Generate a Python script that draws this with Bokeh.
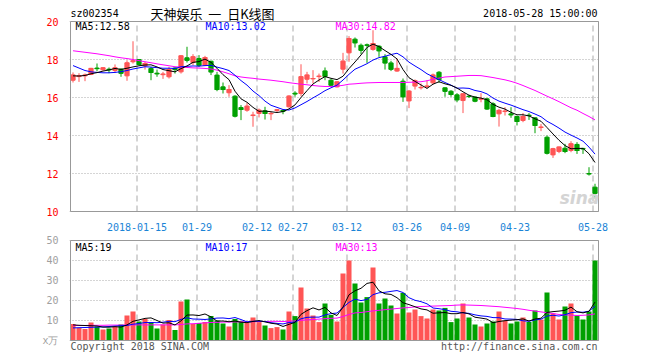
from bokeh.plotting import figure
from bokeh.layouts import column
from bokeh.models import Range1d, FixedTicker, Label, ColumnDataSource
from bokeh.embed import file_html
from bokeh.resources import INLINE

# ---------------- data ----------------
tick_idx = [11, 21, 31, 37, 46, 56, 64, 74, 87]
tick_labels = ["2018-01-15", "01-29", "02-12", "02-27", "03-12", "03-26", "04-09", "04-23", "05-28"]
price_ticks = [10, 12, 14, 16, 18, 20]
vol_ticks = [0, 10, 20, 30, 40, 50]

open_ = [16.91, 17.10, 17.14, 17.21, 17.55, 17.46, 17.49, 17.42, 17.49, 17.14,
         17.88, 18.00, 17.67, 17.53, 17.28, 17.20, 17.09, 17.55, 17.35, 18.09,
         17.84, 18.05, 17.70, 17.91, 17.18, 16.56, 16.25, 16.07, 15.47, 15.33,
         15.05, 15.16, 15.30, 15.14, 15.32, 15.32, 15.51, 16.23, 16.21, 16.96,
         16.98, 17.10, 17.40, 16.91, 16.56, 17.49, 18.35, 19.07, 18.75, 18.77,
         18.53, 18.70, 18.14, 17.82, 17.39, 16.86, 15.82, 16.60, 16.51, 16.58,
         16.77, 17.33, 16.51, 16.33, 16.14, 15.84, 16.07, 16.02, 15.91, 15.93,
         15.67, 15.14, 15.26, 15.14, 15.00, 14.79, 15.07, 14.93, 14.42, 13.91,
         12.98, 13.16, 13.33, 13.21, 13.53, 13.32, 12.00, 11.28]
high = [17.32, 17.28, 17.26, 17.56, 17.79, 17.60, 17.58, 17.74, 17.53, 17.96,
        18.96, 18.02, 17.88, 17.61, 17.47, 17.35, 17.61, 17.61, 18.23, 18.67,
        18.28, 18.23, 18.19, 17.93, 17.35, 16.79, 16.65, 16.12, 15.60, 15.72,
        15.25, 15.42, 15.51, 15.25, 15.39, 15.39, 16.12, 16.33, 17.75, 17.35,
        17.44, 17.26, 17.58, 17.00, 16.86, 18.35, 19.23, 19.16, 18.84, 18.84,
        19.54, 18.75, 18.28, 17.93, 18.05, 17.00, 16.39, 16.95, 16.74, 16.91,
        17.26, 17.39, 16.53, 16.39, 16.23, 16.23, 16.14, 16.05, 16.23, 15.98,
        15.75, 15.40, 15.49, 15.49, 15.05, 15.18, 15.18, 14.96, 14.61, 14.00,
        13.35, 13.42, 13.56, 13.70, 13.65, 13.35, 12.33, 11.46]
low = [16.79, 16.82, 16.86, 17.18, 17.38, 17.42, 17.28, 17.30, 17.09, 16.88,
       17.79, 17.70, 17.47, 16.91, 17.09, 16.98, 17.00, 17.26, 17.26, 17.84,
       17.70, 17.61, 17.65, 17.18, 16.33, 16.21, 16.04, 14.95, 14.81, 15.25,
       14.46, 14.95, 14.84, 14.81, 15.23, 15.12, 15.47, 16.04, 16.07, 16.74,
       16.74, 16.82, 16.91, 16.60, 16.53, 17.26, 17.88, 18.63, 18.28, 17.82,
       18.46, 18.14, 17.47, 17.39, 17.35, 15.77, 15.44, 16.42, 16.42, 16.47,
       16.70, 16.77, 16.04, 16.04, 15.75, 15.18, 15.98, 15.75, 15.75, 15.35,
       14.96, 14.47, 15.05, 14.93, 14.53, 14.70, 14.82, 14.12, 14.23, 13.00,
       12.82, 13.07, 13.07, 13.12, 13.03, 13.03, 11.89, 10.67]
close = [17.18, 17.14, 17.18, 17.53, 17.52, 17.56, 17.46, 17.56, 17.28, 17.82,
         17.93, 17.74, 17.79, 17.32, 17.25, 17.23, 17.47, 17.47, 18.19, 17.96,
         18.14, 17.70, 18.10, 17.35, 16.42, 16.42, 16.42, 15.02, 15.37, 15.54,
         15.07, 15.33, 15.16, 15.16, 15.35, 15.28, 16.07, 16.19, 17.09, 17.18,
         17.00, 17.12, 17.12, 16.65, 16.82, 17.91, 19.10, 18.88, 18.49, 18.75,
         18.84, 18.46, 17.82, 17.49, 17.53, 16.04, 16.33, 16.88, 16.53, 16.60,
         17.18, 16.95, 16.33, 16.16, 15.88, 16.19, 16.05, 15.81, 15.93, 15.40,
         15.00, 15.32, 15.28, 15.09, 14.74, 15.00, 15.05, 14.53, 14.44, 13.07,
         13.30, 13.39, 13.16, 13.56, 13.21, 13.30, 11.98, 10.96]

ma5 = [17.14, 17.13, 17.16, 17.25, 17.31, 17.39, 17.45, 17.53, 17.48, 17.54,
       17.61, 17.67, 17.71, 17.72, 17.61, 17.47, 17.41, 17.35, 17.52, 17.66,
       17.85, 17.89, 18.02, 17.85, 17.54, 17.20, 16.94, 16.33, 15.93, 15.75,
       15.48, 15.27, 15.29, 15.25, 15.21, 15.26, 15.40, 15.61, 16.00, 16.36,
       16.71, 16.92, 17.10, 17.01, 16.94, 17.12, 17.52, 17.87, 18.24, 18.63,
       18.81, 18.68, 18.47, 18.27, 18.03, 17.47, 17.04, 16.85, 16.66, 16.48,
       16.70, 16.83, 16.72, 16.64, 16.50, 16.30, 16.12, 16.02, 15.97, 15.88,
       15.64, 15.49, 15.39, 15.22, 15.09, 15.09, 15.03, 14.88, 14.75, 14.42,
       14.08, 13.75, 13.47, 13.30, 13.32, 13.32, 13.04, 12.58]
ma10 = [17.68, 17.55, 17.42, 17.35, 17.32, 17.30, 17.30, 17.32, 17.36, 17.42,
        17.50, 17.56, 17.62, 17.60, 17.57, 17.54, 17.54, 17.53, 17.62, 17.64,
        17.66, 17.65, 17.68, 17.69, 17.60, 17.52, 17.42, 17.17, 16.89, 16.65,
        16.34, 16.10, 15.81, 15.59, 15.48, 15.37, 15.34, 15.45, 15.62, 15.79,
        15.98, 16.16, 16.36, 16.51, 16.65, 16.92, 17.22, 17.49, 17.63, 17.78,
        17.97, 18.10, 18.17, 18.26, 18.33, 18.14, 17.86, 17.66, 17.47, 17.25,
        17.09, 16.94, 16.79, 16.65, 16.49, 16.50, 16.48, 16.37, 16.31, 16.19,
        15.97, 15.81, 15.70, 15.60, 15.48, 15.36, 15.26, 15.13, 14.99, 14.75,
        14.58, 14.39, 14.18, 14.02, 13.87, 13.70, 13.39, 13.02]
ma30 = [18.46, 18.42, 18.38, 18.34, 18.30, 18.25, 18.20, 18.14, 18.09, 18.05,
        18.00, 17.94, 17.88, 17.83, 17.77, 17.72, 17.67, 17.62, 17.60, 17.58,
        17.56, 17.55, 17.53, 17.50, 17.44, 17.35, 17.25, 17.14, 17.08, 17.04,
        17.01, 16.97, 16.94, 16.91, 16.87, 16.83, 16.78, 16.74, 16.70, 16.67,
        16.63, 16.60, 16.58, 16.58, 16.60, 16.64, 16.70, 16.72, 16.75, 16.77,
        16.78, 16.79, 16.79, 16.79, 16.79, 16.79, 16.80, 16.81, 16.83, 16.88,
        16.96, 17.02, 17.08, 17.10, 17.12, 17.14, 17.16, 17.16, 17.15, 17.10,
        17.05, 16.99, 16.93, 16.85, 16.75, 16.63, 16.50, 16.37, 16.22, 16.07,
        15.93, 15.78, 15.62, 15.46, 15.33, 15.16, 15.00, 14.82]

volume = [8.3, 6.2, 5.8, 9.0, 7.0, 5.5, 6.0, 7.0, 8.0, 12.5,
          14.5, 9.5, 10.8, 9.2, 6.0, 8.0, 10.3, 5.3, 19.5, 20.5,
          8.3, 8.8, 9.2, 12.2, 10.0, 8.5, 7.0, 10.8, 9.5, 8.8,
          11.5, 9.2, 7.5, 6.2, 6.7, 5.5, 14.5, 12.2, 26.5, 16.0,
          12.5, 9.2, 18.5, 12.8, 9.5, 33.5, 40.0, 28.5, 19.0, 21.7,
          36.5, 18.5, 21.0, 17.5, 13.5, 23.8, 14.0, 15.5, 12.2, 11.0,
          15.5, 15.0, 16.3, 9.2, 11.0, 18.5, 11.5, 8.0, 7.0, 8.5,
          9.5, 14.5, 10.0, 8.5, 9.5, 11.5, 9.2, 15.0, 10.5, 24.0,
          13.5, 10.5, 17.0, 18.5, 12.5, 10.5, 14.5, 40.0]
vma5 = [7.8, 7.6, 7.5, 7.4, 7.26, 6.7, 6.66, 6.9, 6.7, 7.8,
        9.6, 10.3, 11.06, 11.3, 10.0, 8.7, 8.86, 7.76, 9.82, 12.72,
        12.78, 12.48, 13.26, 11.8, 9.7, 9.74, 9.38, 9.7, 9.16, 8.92,
        9.52, 9.96, 9.3, 8.64, 8.22, 7.02, 8.08, 9.02, 13.08, 14.94,
        16.34, 15.28, 16.54, 13.8, 12.5, 16.7, 22.86, 24.86, 26.1, 28.54,
        29.14, 24.84, 23.34, 23.04, 21.4, 18.86, 17.96, 16.86, 15.8, 15.3,
        13.64, 13.84, 14.0, 13.4, 13.4, 14.0, 13.3, 11.64, 11.2, 10.7,
        8.9, 9.5, 9.9, 10.2, 10.4, 10.8, 9.74, 10.74, 11.14, 14.04,
        14.44, 14.7, 15.1, 16.7, 14.4, 13.8, 14.6, 19.2]
vma10 = [6.3, 6.4, 6.5, 6.6, 6.7, 6.8, 7.0, 7.2, 7.4, 7.53,
         8.15, 8.48, 8.98, 9.0, 8.9, 9.15, 9.58, 9.41, 10.56, 11.36,
         10.74, 10.67, 10.51, 10.81, 11.21, 11.26, 10.93, 11.48, 10.48, 9.31,
         9.63, 9.67, 9.5, 8.9, 8.57, 8.27, 9.02, 9.16, 10.86, 11.58,
         11.68, 11.68, 12.78, 13.44, 13.72, 16.52, 19.07, 20.7, 19.95, 20.52,
         22.92, 23.85, 24.1, 24.57, 24.97, 24.0, 21.4, 20.1, 19.42, 18.35,
         16.25, 15.9, 15.43, 14.6, 14.35, 13.82, 13.57, 12.82, 12.3, 12.05,
         11.45, 11.4, 10.77, 10.7, 10.55, 9.85, 9.62, 10.32, 10.67, 12.22,
         12.62, 12.22, 12.92, 13.92, 14.22, 14.12, 14.65, 17.15]
vma30 = [7.5, 7.5, 7.5, 7.6, 7.6, 7.6, 7.7, 7.7, 7.7, 7.8,
         7.8, 7.8, 7.8, 7.8, 7.8, 7.8, 7.8, 7.8, 8.0, 8.3,
         8.4, 8.6, 8.8, 9.0, 9.1, 9.2, 9.2, 9.3, 9.3, 9.3,
         9.4, 9.5, 9.5, 9.6, 9.6, 9.5, 9.6, 9.8, 10.1, 10.3,
         10.5, 10.7, 10.9, 11.1, 11.2, 12.0, 13.0, 13.8, 14.0, 14.4,
         14.8, 15.1, 15.4, 15.7, 16.0, 16.3, 16.5, 16.8, 17.0, 17.1,
         17.2, 17.3, 17.4, 17.5, 17.7, 17.8, 17.7, 17.6, 17.5, 17.3,
         17.1, 16.9, 16.6, 16.3, 16.0, 15.6, 15.1, 14.7, 14.3, 13.9,
         13.5, 13.0, 12.8, 12.7, 12.5, 12.6, 12.8, 13.3]

# ---------------- styling ----------------
MONO = "DejaVu Sans Mono"
CJK = "Noto Sans CJK SC"
RED = "#ff5555"
GREEN = "#00a000"
TICK_BLUE = "#1a84d6"
BORDER = "#999999"
GRID = "#aaaaaa"

N = len(close)
xs = [i + 1 / 3 for i in range(N)]
colors = [RED if c >= o else GREEN for o, c in zip(open_, close)]
src = ColumnDataSource(dict(
    x=xs,
    xl=[x - 0.38 for x in xs],
    xr=[x + 0.38 for x in xs],
    h=high, l=low, c=close,
    top=[max(o, c) for o, c in zip(open_, close)],
    bot=[min(o, c) for o, c in zip(open_, close)],
    color=colors, vol=volume,
))

PXX = 6.0            # px per candle slot
X0 = -1 / 12         # data x at the chart's left border (screen x = 70)
X1 = N - 1 / 12      # data x at the chart's right border (screen x = 598)
XR = Range1d(X0 - 1 / PXX, X1 + 1 / PXX)
W = 648


def xpx(px):
    return X0 + (px - 70) / PXX


def py(ys):  # screen y -> price value
    return 20 - (ys - 21) / 19.0


def vy(ys):  # screen y -> volume value
    return (340 - ys) / 2.0


def style(p):
    p.title.visible = False
    p.outline_line_color = None
    p.background_fill_color = "white"
    p.border_fill_color = "white"
    for ax in (p.xaxis, p.yaxis):
        ax.axis_line_color = None
        ax.major_tick_line_color = None
        ax.minor_tick_line_color = None
        ax.major_label_text_font = MONO
        ax.major_label_text_font_size = "10px"
    p.xgrid.grid_line_color = None
    p.ygrid.grid_line_color = GRID
    p.ygrid.grid_line_dash = "1 2"
    p.ygrid.grid_line_width = 1


# ---------------- price panel ----------------
p1 = figure(width=W, height=233, x_range=XR,
            y_range=Range1d(py(212), py(0)),
            output_backend="svg", toolbar_location=None,
            min_border_left=69, min_border_right=W - 599, min_border_top=0, min_border_bottom=21)
style(p1)
p1.xaxis.ticker = FixedTicker(ticks=tick_idx)
p1.xaxis.major_label_overrides = {k: v for k, v in zip(tick_idx, tick_labels)}
p1.xaxis.major_label_text_color = TICK_BLUE
p1.xaxis.major_label_standoff = 4
p1.yaxis.ticker = FixedTicker(ticks=price_ticks)
p1.yaxis.major_label_text_color = "#ff0000"
p1.yaxis.major_label_standoff = 5

n_t = len(tick_idx)
p1.segment(x0=tick_idx, y0=[10] * n_t, x1=tick_idx, y1=[20] * n_t,
           line_color=GRID, line_dash="6 4", line_width=1)
p1.segment(x0="x", y0="l", x1="x", y1="h", line_color="color", line_width=1, source=src)
p1.vbar(x="x", width=0.7, top="top", bottom="bot", fill_color="color", line_color="color",
        line_width=1, source=src)
p1.segment(x0="xl", y0="c", x1="xr", y1="c", line_color="color", line_width=1, source=src)
p1.line(xs, ma30, line_color="#ff00ff", line_width=1)
p1.line(xs, ma10, line_color="#0000ff", line_width=1)
p1.line(xs, ma5, line_color="#000000", line_width=1)
p1.quad(left=[X0], right=[X1], bottom=[10], top=[20], fill_color=None,
        line_color=BORDER, line_width=1)

YT = py(13)
NB = "\u00a0"
p1.add_layout(Label(x=X0, y=YT, text="sz002354", text_font=MONO, text_font_size="10px",
                    text_baseline="middle", text_color="#000000"))
p1.add_layout(Label(x=xpx(150), y=YT, text="天神娱乐" + NB * 2 + "一" + NB * 2 + "日K线图",
                    text_font=CJK, text_font_size="13px", text_baseline="middle",
                    text_color="#000000"))
p1.add_layout(Label(x=xpx(597), y=YT, text="2018-05-28 15:00:00", text_font=MONO,
                    text_font_size="10px", text_baseline="middle", text_align="right",
                    text_color="#000000"))
YL = py(26)
for px, txt, col in [(75, "MA5:12.58", "#000000"), (205, "MA10:13.02", "#0000ff"),
                     (335, "MA30:14.82", "#ff00ff")]:
    p1.add_layout(Label(x=xpx(px), y=YL, text=txt, text_font=MONO, text_font_size="10px",
                        text_baseline="middle", text_color=col))
p1.add_layout(Label(x=xpx(579), y=py(197), text="sina", text_font="DejaVu Sans",
                    text_font_size="17px", text_font_style="bold italic",
                    text_align="center", text_baseline="middle", text_color="#d4d4d4"))

# ---------------- volume panel ----------------
p2 = figure(width=W, height=119, x_range=XR, y_range=Range1d(vy(352), vy(239)),
            output_backend="svg", toolbar_location=None,
            min_border_left=69, min_border_right=W - 599, min_border_top=6, min_border_bottom=0)
style(p2)
p2.xaxis.visible = False
p2.yaxis.ticker = FixedTicker(ticks=vol_ticks)
p2.yaxis.major_label_overrides = {0: "x万"}
p2.yaxis.major_label_text_color = "#a0a0a0"
p2.yaxis.major_label_standoff = 5

p2.segment(x0=tick_idx, y0=[0] * n_t, x1=tick_idx, y1=[50] * n_t,
           line_color=GRID, line_dash="6 4", line_width=1)
p2.vbar(x="x", width=0.84, top="vol", bottom=0, fill_color="color", line_color=None, source=src)
p2.line(xs, vma30, line_color="#ff00ff", line_width=1)
p2.line(xs, vma10, line_color="#0000ff", line_width=1)
p2.line(xs, vma5, line_color="#000000", line_width=1)
p2.quad(left=[X0], right=[X1], bottom=[0], top=[50], fill_color=None,
        line_color=BORDER, line_width=1)

YV = vy(246.5)
for px, txt, col in [(75, "MA5:19", "#000000"), (205, "MA10:17", "#0000ff"),
                     (335, "MA30:13", "#ff00ff")]:
    p2.add_layout(Label(x=xpx(px), y=YV, text=txt, text_font=MONO, text_font_size="10px",
                        text_baseline="middle", text_color=col))
YB = vy(346)
p2.add_layout(Label(x=X0, y=YB, text="Copyright 2018 SINA.COM", text_font=MONO,
                    text_font_size="10px", text_baseline="middle", text_color="#555555"))
p2.add_layout(Label(x=xpx(597), y=YB, text="http://finance.sina.com.cn", text_font=MONO,
                    text_font_size="10px", text_baseline="middle", text_align="right",
                    text_color="#555555"))

layout = column(p1, p2)
open("out.html", "w").write(file_html(layout, INLINE))
